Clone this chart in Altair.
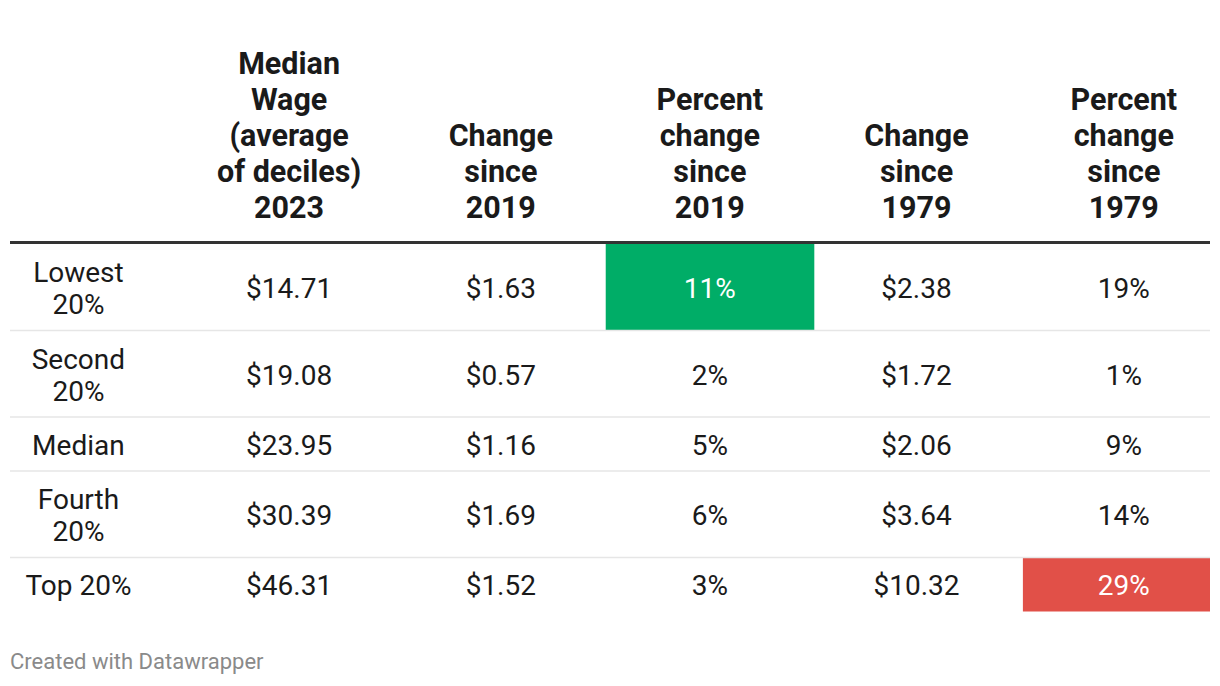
import altair as alt
import pandas as pd

# ---- data ----
row_labels = ["Lowest\n20%", "Second\n20%", "Median", "Fourth\n20%", "Top 20%"]
headers = ["",
           "Median\nWage\n(average\nof deciles)\n2023",
           "Change\nsince\n2019",
           "Percent\nchange\nsince\n2019",
           "Change\nsince\n1979",
           "Percent\nchange\nsince\n1979"]
median_wage_2023 = ["$14.71", "$19.08", "$23.95", "$30.39", "$46.31"]
change_since_2019 = ["$1.63", "$0.57", "$1.16", "$1.69", "$1.52"]
pct_change_2019 = ["11%", "2%", "5%", "6%", "3%"]
change_since_1979 = ["$2.38", "$1.72", "$2.06", "$3.64", "$10.32"]
pct_change_1979 = ["19%", "1%", "9%", "14%", "29%"]
# highlighted cells: (row, column, colour)
highlights = [(0, 3, "#00ad67"), (4, 5, "#e15048")]
footer = "Created with Datawrapper"

# ---- layout (chart units: column index on x, pixels from top on y) ----
W, H = 1200, 670
X_LEFT, X_RIGHT = -0.343, 5.41
COL_SHIFT = [-0.015, -0.005, 0.01, 0.012, 0.003, -0.003]
CELL_SHIFT = 0.013
HEADER_BASE = 201      # centre of the last header line
HEADER_LH = 36
HEAD_RULE = 234.5
BODY_LH = 32
BODY_DY = 2.8
ROW_BASE, ROW_PER_LINE = 21.5, 32.5

columns = [row_labels, median_wage_2023, change_since_2019,
           pct_change_2019, change_since_1979, pct_change_1979]

# row boundaries from the number of lines in each row
bounds = [HEAD_RULE + 1.5]
for r in range(len(row_labels)):
    n = max(len(str(col[r]).split("\n")) for col in columns)
    bounds.append(bounds[-1] + ROW_BASE + ROW_PER_LINE * n)

hl = {(r, c): col for r, c, col in highlights}

header_rows = []
for c, h in enumerate(headers):
    lines = h.split("\n") if h else []
    for k, line in enumerate(lines):
        header_rows.append({"x": c + COL_SHIFT[c],
                            "y": HEADER_BASE - (len(lines) - 1 - k) * HEADER_LH,
                            "text": line})
header_df = pd.DataFrame(header_rows)

body_rows = []
for c, col in enumerate(columns):
    for r, val in enumerate(col):
        lines = str(val).split("\n")
        mid = (bounds[r] + bounds[r + 1]) / 2
        for k, line in enumerate(lines):
            body_rows.append({"x": c + COL_SHIFT[c],
                              "y": mid + BODY_DY + (k - (len(lines) - 1) / 2) * BODY_LH,
                              "text": line,
                              "color": "#ffffff" if (r, c) in hl else "#1a1a1a"})
body_df = pd.DataFrame(body_rows)

rect_df = pd.DataFrame([{"x": c - 0.5 + CELL_SHIFT,
                         "x2": min(c + 0.5 + CELL_SHIFT, X_RIGHT),
                         "y": bounds[r], "y2": bounds[r + 1], "color": col}
                        for (r, c), col in hl.items()])

rule_rows = [{"x": X_LEFT, "x2": X_RIGHT, "y": HEAD_RULE, "color": "#333333", "w": 3}]
for b in bounds[1:-1]:
    rule_rows.append({"x": X_LEFT, "x2": X_RIGHT, "y": b, "color": "#e6e6e6", "w": 1.5})
rule_df = pd.DataFrame(rule_rows)

footer_df = pd.DataFrame([{"x": X_LEFT, "y": 654, "text": footer}])

xs = alt.Scale(domain=[X_LEFT, X_RIGHT])
ys = alt.Scale(domain=[0, H], reverse=True)

rects = alt.Chart(rect_df).mark_rect().encode(
    x=alt.X("x:Q", scale=xs, axis=None), x2="x2:Q",
    y=alt.Y("y:Q", scale=ys, axis=None), y2="y2:Q",
    color=alt.Color("color:N", scale=None))

rules = alt.Chart(rule_df).mark_rule().encode(
    x=alt.X("x:Q", scale=xs, axis=None), x2="x2:Q",
    y=alt.Y("y:Q", scale=ys, axis=None),
    color=alt.Color("color:N", scale=None),
    strokeWidth=alt.StrokeWidth("w:Q", scale=None))

head = alt.Chart(header_df).mark_text(
    font="Roboto", fontSize=30.5, fontWeight="bold", color="#1a1a1a",
    align="center", baseline="middle").encode(
    x=alt.X("x:Q", scale=xs, axis=None),
    y=alt.Y("y:Q", scale=ys, axis=None),
    text="text:N")

body = alt.Chart(body_df).mark_text(
    font="Roboto", fontSize=28, align="center", baseline="middle").encode(
    x=alt.X("x:Q", scale=xs, axis=None),
    y=alt.Y("y:Q", scale=ys, axis=None),
    text="text:N",
    color=alt.Color("color:N", scale=None))

foot = alt.Chart(footer_df).mark_text(
    font="Roboto", fontSize=22, color="#8a8a8a", align="left", baseline="middle").encode(
    x=alt.X("x:Q", scale=xs, axis=None),
    y=alt.Y("y:Q", scale=ys, axis=None),
    text="text:N")

chart = alt.layer(rects, rules, head, body, foot).properties(
    width=W, height=H,
    autosize=alt.AutoSizeParams(type="none"),
    padding={"left": 2, "right": 2, "top": 0, "bottom": 0},
).configure(background="white", view=alt.ViewConfig(stroke=None))

chart.save("out.html", embed_options={"renderer": "svg", "actions": False})
